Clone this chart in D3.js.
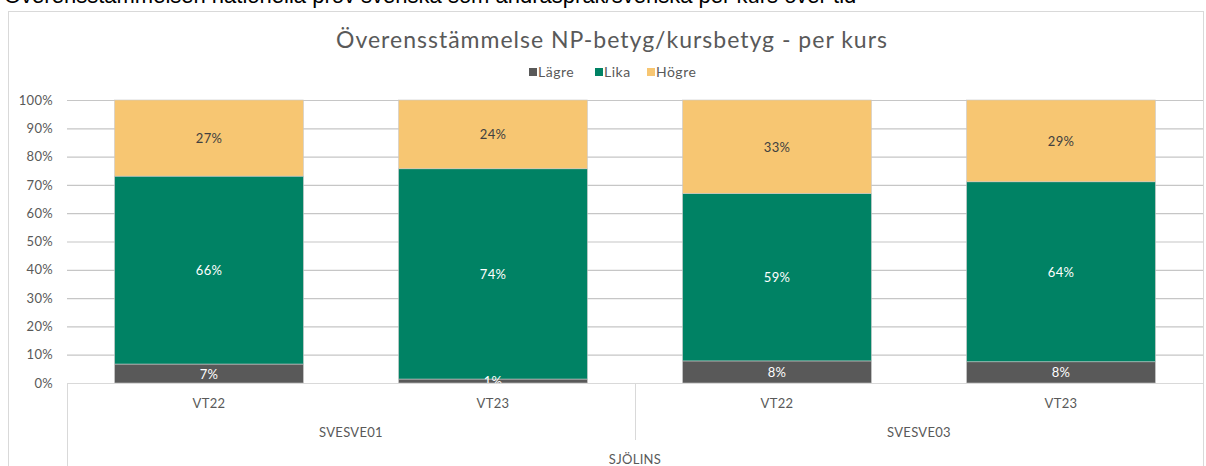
<!DOCTYPE html>
<html>
<head>
<meta charset="utf-8">
<script src="https://cdn.jsdelivr.net/npm/d3@7"></script>
<style>
  body { margin: 0; background: #fff; }
  svg { display: block; font-family: "Lato", "DejaVu Sans", sans-serif; }
</style>
</head>
<body>
<svg width="1206" height="466"></svg>
<script>
const terms = ["VT22", "VT23", "VT22", "VT23"];
const courses = ["SVESVE01", "SVESVE01", "SVESVE03", "SVESVE03"];
const schools = ["SJÖLINS", "SJÖLINS", "SJÖLINS", "SJÖLINS"];
const seriesNames = ["Lägre", "Lika", "Högre"];
const lagre = [6.7, 1.4, 7.8, 7.5];
const lika = [66.4, 74.3, 59.2, 63.6];
const hogre = [26.9, 24.3, 33.0, 28.9];
const yTicks = [0, 10, 20, 30, 40, 50, 60, 70, 80, 90, 100];

const colors = { "Lägre": "#595959", "Lika": "#008264", "Högre": "#f7c672" };
const labelColors = { "Lägre": "#ffffff", "Lika": "#ffffff", "Högre": "#404040" };

const width = 1206;
const height = 466;
const margin = { top: 100, right: 3, bottom: 83, left: 67 };

const svg = d3.select("svg");

const rows = terms.map((t, i) => ({
  key: i,
  term: t,
  course: courses[i],
  school: schools[i],
  "Lägre": lagre[i],
  "Lika": lika[i],
  "Högre": hogre[i],
}));

const x = d3
  .scaleBand()
  .domain(rows.map((d) => d.key))
  .range([margin.left, width - margin.right])
  .paddingInner(0.335)
  .paddingOuter(0.1675);

const y = d3
  .scaleLinear()
  .domain([0, 100])
  .range([height - margin.bottom, margin.top]);

// rubrik ovanför diagrammet, till största delen avskuren
svg
  .append("text")
  .attr("x", 4)
  .attr("y", 3)
  .attr("font-family", "Liberation Sans, sans-serif")
  .attr("font-size", "22px")
  .attr("fill", "#000")
  .text("Överensstämmelsen nationella prov svenska som andraspråk/svenska per kurs över tid");

// diagramram
svg
  .append("rect")
  .attr("x", 8.5)
  .attr("y", 11.5)
  .attr("width", 1195)
  .attr("height", 470)
  .attr("fill", "none")
  .attr("stroke", "#d9d9d9");

svg
  .append("text")
  .attr("x", 612)
  .attr("y", 48)
  .attr("text-anchor", "middle")
  .attr("font-size", "23px")
  .attr("letter-spacing", "1px")
  .attr("fill", "#595959")
  .text("Överensstämmelse NP-betyg/kursbetyg - per kurs");

// förklaring
const legendX = [529, 595, 647];
const legend = svg
  .append("g")
  .selectAll("g")
  .data(seriesNames)
  .join("g")
  .attr("transform", (d, i) => `translate(${legendX[i]},72)`);
legend
  .append("rect")
  .attr("x", 0)
  .attr("y", -4)
  .attr("width", 8)
  .attr("height", 8)
  .attr("fill", (d) => colors[d]);
legend
  .append("text")
  .attr("x", 9)
  .attr("y", 5)
  .attr("font-size", "14px")
  .attr("letter-spacing", "0.5px")
  .attr("fill", "#595959")
  .text((d) => d);

// stödlinjer + y-axel
const yAxis = svg
  .append("g")
  .attr("transform", `translate(${margin.left},0)`)
  .call(
    d3
      .axisLeft(y)
      .tickValues(yTicks)
      .tickSize(-(width - margin.left - margin.right))
      .tickPadding(14)
      .tickFormat((d) => d + "%")
  );
yAxis.select(".domain").remove();
yAxis.selectAll(".tick line").attr("stroke", "#c6c6c6").attr("stroke-width", 1.2);
yAxis
  .selectAll(".tick text")
  .attr("fill", "#595959")
  .attr("font-size", "13px")
  .attr("letter-spacing", "0.3px")
  .attr("font-family", "Lato, sans-serif");

// staplade staplar
const stacked = d3.stack().keys(seriesNames)(rows);

svg
  .append("g")
  .selectAll("g")
  .data(stacked)
  .join("g")
  .attr("fill", (d) => colors[d.key])
  .selectAll("rect")
  .data((d) => d)
  .join("rect")
  .attr("x", (d) => x(d.data.key))
  .attr("y", (d) => y(d[1]))
  .attr("width", x.bandwidth())
  .attr("height", (d) => y(d[0]) - y(d[1]))
  .attr("stroke", "#c8c8c8")
  .attr("stroke-width", 0.6);

// dataetiketter ovanpå alla staplar
svg
  .append("g")
  .selectAll("g")
  .data(stacked)
  .join("g")
  .selectAll("text")
  .data((d) => d.map((v) => ({ v, key: d.key })))
  .join("text")
  .attr("x", (d) => x(d.v.data.key) + x.bandwidth() / 2)
  .attr("y", (d) => (y(d.v[0]) + y(d.v[1])) / 2 + 5)
  .attr("text-anchor", "middle")
  .attr("font-size", "13px")
  .attr("letter-spacing", "0.3px")
  .attr("fill", (d) => labelColors[d.key])
  .text((d) => Math.round(d.v.data[d.key]) + "%");

// kategoriaxel i flera nivåer
const axisY = height - margin.bottom;
const axisG = svg.append("g").attr("stroke", "#d9d9d9").attr("fill", "none");
axisG
  .append("line")
  .attr("x1", margin.left)
  .attr("x2", width - margin.right)
  .attr("y1", axisY + 0.5)
  .attr("y2", axisY + 0.5);

const courseGroups = d3.groups(rows, (d) => d.course).map(([course, items]) => ({
  course,
  x0: x(items[0].key) - (x.step() * x.paddingInner()) / 2,
  x1: x(items[items.length - 1].key) + x.bandwidth() + (x.step() * x.paddingInner()) / 2,
}));

const bounds = [margin.left, ...courseGroups.slice(0, -1).map((g) => g.x1), width - margin.right];
bounds.forEach((bx, i) => {
  const outer = i === 0 || i === bounds.length - 1;
  axisG
    .append("line")
    .attr("x1", Math.round(bx) + 0.5)
    .attr("x2", Math.round(bx) + 0.5)
    .attr("y1", axisY)
    .attr("y2", outer ? height : axisY + 57);
});

const labelStyle = (sel) =>
  sel
    .attr("text-anchor", "middle")
    .attr("font-size", "13px")
    .attr("letter-spacing", "0.3px")
    .attr("fill", "#595959");

svg
  .append("g")
  .selectAll("text")
  .data(rows)
  .join("text")
  .attr("x", (d) => x(d.key) + x.bandwidth() / 2)
  .attr("y", axisY + 25)
  .call(labelStyle)
  .text((d) => d.term);

svg
  .append("g")
  .selectAll("text")
  .data(courseGroups)
  .join("text")
  .attr("x", (d) => (d.x0 + d.x1) / 2)
  .attr("y", axisY + 54)
  .call(labelStyle)
  .text((d) => d.course);

svg
  .append("text")
  .attr("x", (margin.left + width - margin.right) / 2)
  .attr("y", axisY + 81)
  .call(labelStyle)
  .text(schools[0]);
</script>
</body>
</html>
